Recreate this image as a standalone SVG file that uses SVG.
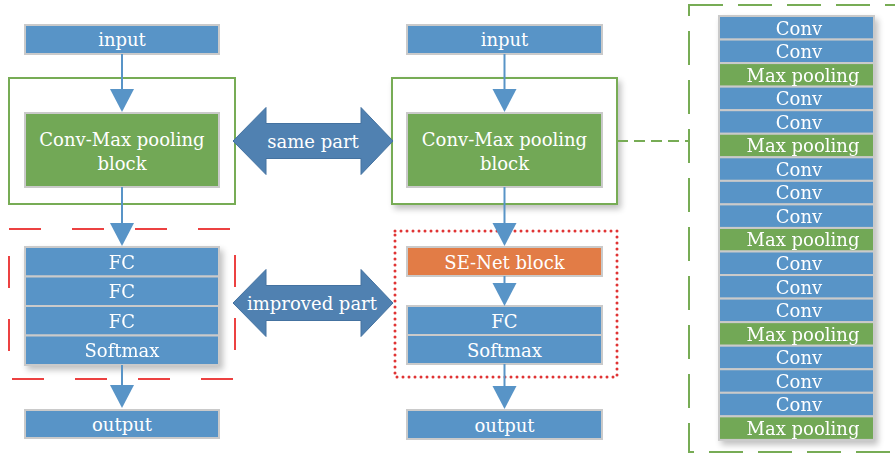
<svg xmlns="http://www.w3.org/2000/svg" width="895" height="456" viewBox="0 0 895 456">
  <defs>
    <filter id="shadow" x="-10%" y="-10%" width="125%" height="130%">
      <feGaussianBlur in="SourceAlpha" stdDeviation="3"/>
      <feOffset dx="3" dy="4" result="b"/>
      <feComponentTransfer><feFuncA type="linear" slope="0.25"/></feComponentTransfer>
      <feMerge><feMergeNode/><feMergeNode in="SourceGraphic"/></feMerge>
    </filter>
    <polygon id="head" points="-12,0 12,0 0,23"/>
  </defs>
  <style>
    .blue { fill: #5894C7; stroke: #CACACA; stroke-width: 2; }
    .green { fill: #72A856; stroke: #CACACA; stroke-width: 2; }
    .orange { fill: #E27C46; stroke: #CACACA; stroke-width: 2; }
    .frame { fill: #FFFFFF; stroke: #77AC55; stroke-width: 2; }
    .red-dash { fill: none; stroke: #EC4141; stroke-width: 2; stroke-dasharray: 32 31; }
    .red-dot { fill: none; stroke: #E03434; stroke-width: 3; stroke-linecap: round; stroke-dasharray: 0 6; }
    .green-dash { fill: none; stroke: #77AC55; stroke-width: 2; stroke-dasharray: 34 15; }
    .link { stroke: #5894C7; stroke-width: 2; fill: none; }
    .tip { fill: #5894C7; }
    .dbl { fill: #5081B1; stroke: #4472A0; stroke-width: 1; }
    text { font-family: "DejaVu Serif", "Liberation Serif", serif; font-size: 18px; fill: #FFFFFF; text-anchor: middle; }
  </style>

  <!-- left column -->
  <g id="left-input">
    <rect class="blue" x="25" y="25" width="194" height="29"/>
    <text x="122" y="46">input</text>
  </g>
  <g id="left-conv-frame">
    <rect class="frame" x="9" y="78" width="226" height="126"/>
  </g>
  <g id="left-conv-block">
    <rect class="green" x="25" y="113" width="194" height="74"/>
    <text x="122" y="146">Conv-Max pooling</text>
    <text x="122" y="170">block</text>
  </g>
  <g id="left-fc-region">
    <rect class="red-dash" x="9" y="229" width="226" height="150"/>
  </g>
  <g id="left-fc-stack" filter="url(#shadow)">
    <rect class="blue" x="25" y="247" width="194" height="29.5"/>
    <rect class="blue" x="25" y="276.5" width="194" height="29.5"/>
    <rect class="blue" x="25" y="306" width="194" height="29.5"/>
    <rect class="blue" x="25" y="335.5" width="194" height="29.5"/>
    <text x="122" y="268.5">FC</text>
    <text x="122" y="298">FC</text>
    <text x="122" y="327.5">FC</text>
    <text x="122" y="357">Softmax</text>
  </g>
  <g id="left-output">
    <rect class="blue" x="25" y="410" width="194" height="28"/>
    <text x="122" y="430.5">output</text>
  </g>

  <!-- middle column -->
  <g id="mid-input">
    <rect class="blue" x="407" y="25" width="195" height="29"/>
    <text x="504.5" y="46">input</text>
  </g>
  <g id="mid-conv-frame">
    <rect class="frame" x="392" y="78" width="225" height="126" filter="url(#shadow)"/>
  </g>
  <g id="mid-conv-block">
    <rect class="green" x="407" y="113" width="195" height="74"/>
    <text x="504.5" y="146">Conv-Max pooling</text>
    <text x="504.5" y="170">block</text>
  </g>
  <g id="mid-improved-region">
    <rect class="red-dot" x="395" y="231" width="222" height="146"/>
  </g>
  <g id="mid-se-block">
    <rect class="orange" x="407" y="247" width="195" height="29"/>
    <text x="504.5" y="268.5">SE-Net block</text>
  </g>
  <g id="mid-fc-stack">
    <rect class="blue" x="407" y="306" width="195" height="29"/>
    <rect class="blue" x="407" y="335" width="195" height="29"/>
    <text x="504.5" y="327.5">FC</text>
    <text x="504.5" y="356.5">Softmax</text>
  </g>
  <g id="mid-output">
    <rect class="blue" x="407" y="410" width="195" height="29"/>
    <text x="504.5" y="431.5">output</text>
  </g>

  <!-- comparison arrows -->
  <g id="same-part">
    <path class="dbl" d="M233,141 L266,107.5 L266,123.5 L361,123.5 L361,107.5 L393,141 L361,174.5 L361,158.5 L266,158.5 L266,174.5 Z"/>
    <text x="313" y="147.5">same part</text>
  </g>
  <g id="improved-part">
    <path class="dbl" d="M233,303 L266,269.5 L266,285.5 L361,285.5 L361,269.5 L393,303 L361,336.5 L361,320.5 L266,320.5 L266,336.5 Z"/>
    <text x="312" y="309.5">improved part</text>
  </g>

  <!-- expanded conv-max pooling block -->
  <g id="block-detail-frame">
    <rect class="green-dash" x="689" y="5" width="220" height="447"/>
  </g>
  <g id="block-detail-stack" filter="url(#shadow)">
    <rect class="blue" x="719" y="16" width="155" height="23.55"/>
    <rect class="blue" x="719" y="39.55" width="155" height="23.55"/>
    <rect class="green" x="719" y="63.1" width="155" height="23.55"/>
    <rect class="blue" x="719" y="86.65" width="155" height="23.55"/>
    <rect class="blue" x="719" y="110.2" width="155" height="23.55"/>
    <rect class="green" x="719" y="133.75" width="155" height="23.55"/>
    <rect class="blue" x="719" y="157.3" width="155" height="23.55"/>
    <rect class="blue" x="719" y="180.85" width="155" height="23.55"/>
    <rect class="blue" x="719" y="204.4" width="155" height="23.55"/>
    <rect class="green" x="719" y="227.95" width="155" height="23.55"/>
    <rect class="blue" x="719" y="251.5" width="155" height="23.55"/>
    <rect class="blue" x="719" y="275.05" width="155" height="23.55"/>
    <rect class="blue" x="719" y="298.6" width="155" height="23.55"/>
    <rect class="green" x="719" y="322.15" width="155" height="23.55"/>
    <rect class="blue" x="719" y="345.7" width="155" height="23.55"/>
    <rect class="blue" x="719" y="369.25" width="155" height="23.55"/>
    <rect class="blue" x="719" y="392.8" width="155" height="23.55"/>
    <rect class="green" x="719" y="416.35" width="155" height="23.55"/>
    <text x="799" y="34.5">Conv</text>
    <text x="799" y="58">Conv</text>
    <text x="803" y="81.5">Max pooling</text>
    <text x="799" y="105.1">Conv</text>
    <text x="799" y="128.7">Conv</text>
    <text x="803" y="152.2">Max pooling</text>
    <text x="799" y="175.8">Conv</text>
    <text x="799" y="199.3">Conv</text>
    <text x="799" y="222.9">Conv</text>
    <text x="803" y="246.4">Max pooling</text>
    <text x="799" y="270">Conv</text>
    <text x="799" y="293.5">Conv</text>
    <text x="799" y="317.1">Conv</text>
    <text x="803" y="340.6">Max pooling</text>
    <text x="799" y="364.2">Conv</text>
    <text x="799" y="387.7">Conv</text>
    <text x="799" y="411.3">Conv</text>
    <text x="803" y="434.8">Max pooling</text>
  </g>

  <!-- connectors -->
  <g id="connectors">
    <line class="link" x1="122" y1="54" x2="122" y2="90"/>
    <use href="#head" class="tip" x="122" y="89"/>
    <line class="link" x1="122" y1="187" x2="122" y2="224"/>
    <use href="#head" class="tip" x="122" y="223"/>
    <line class="link" x1="122" y1="365" x2="122" y2="385"/>
    <use href="#head" class="tip" x="122" y="385"/>

    <line class="link" x1="504.5" y1="54" x2="504.5" y2="90"/>
    <use href="#head" class="tip" x="504.5" y="89"/>
    <line class="link" x1="504.5" y1="187" x2="504.5" y2="224"/>
    <use href="#head" class="tip" x="504.5" y="223"/>
    <line class="link" x1="504.5" y1="276" x2="504.5" y2="284"/>
    <use href="#head" class="tip" x="504.5" y="283"/>
    <line class="link" x1="504.5" y1="364" x2="504.5" y2="387"/>
    <use href="#head" class="tip" x="504.5" y="386"/>

    <line class="green-dash" x1="617" y1="141" x2="689" y2="141" style="stroke-dasharray: 11 6"/>
  </g>
</svg>
